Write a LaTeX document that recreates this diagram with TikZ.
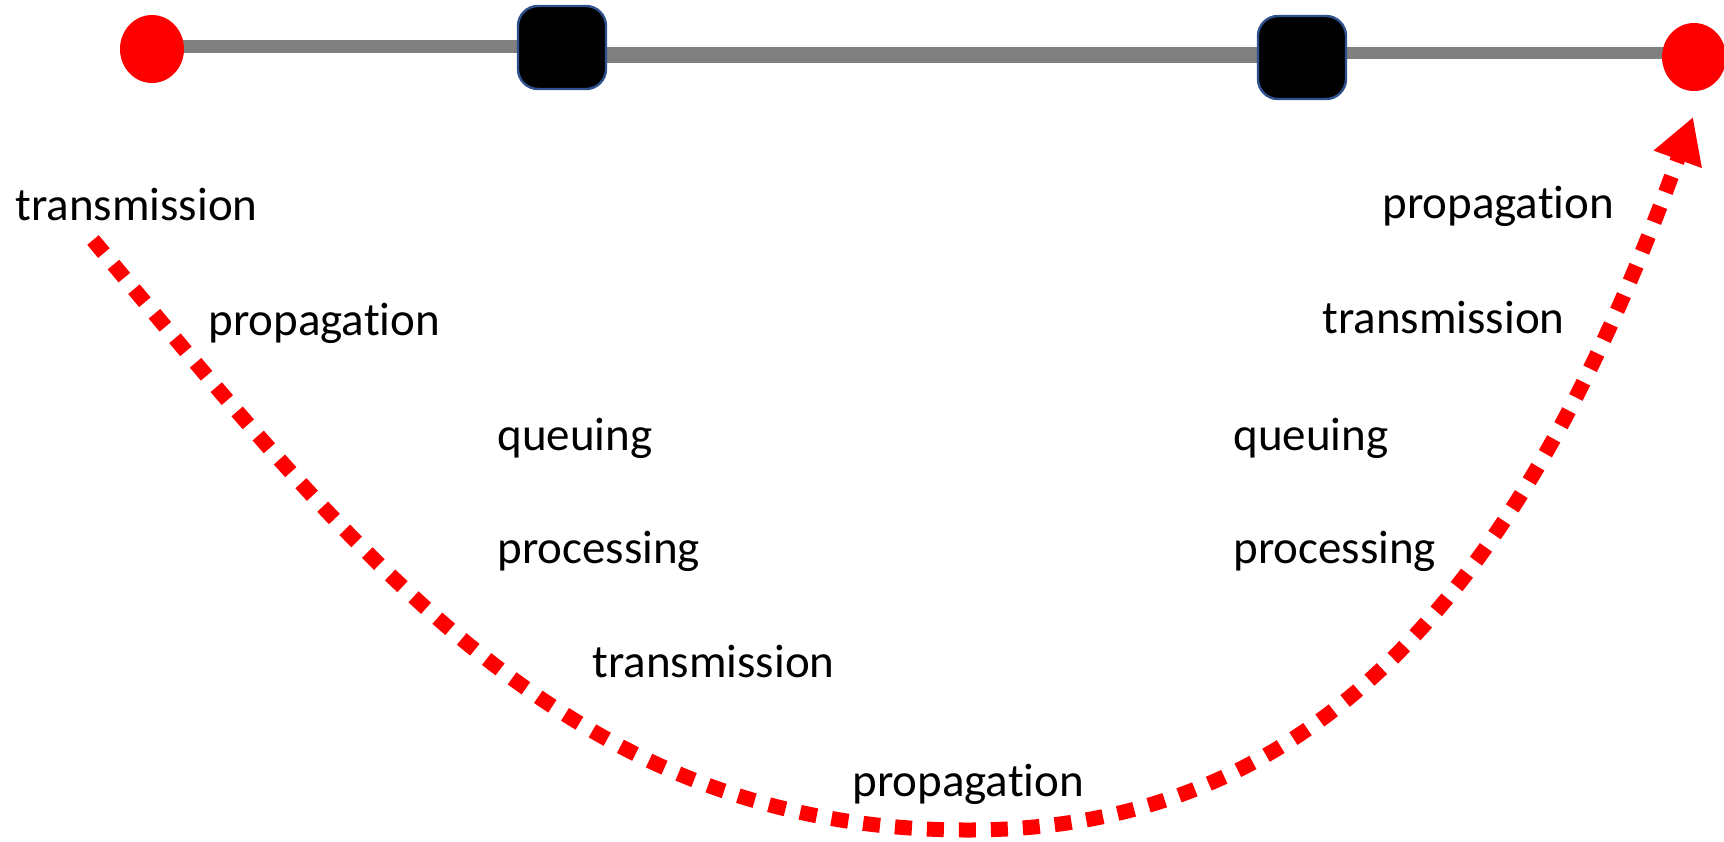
\documentclass[tikz,border=0pt]{standalone}
\usepackage{fontspec}
\setmainfont{Carlito}[Ligatures=NoCommon]
\usetikzlibrary{arrows.meta,shapes.geometric,backgrounds}
\definecolor{linegray}{RGB}{128,128,128}
\definecolor{boxblue}{RGB}{47,82,143}
\tikzset{
  endpt/.style={ellipse, fill=red, minimum width=32pt, minimum height=34pt, inner sep=0pt},
  routerbox/.style={draw=boxblue, line width=1.2pt, fill=black, rounded corners=10pt, minimum width=44pt, minimum height=41.5pt, inner sep=0pt},
  topline/.style={draw=linegray, line width=6pt},
  lbl/.style={anchor=base west, inner sep=0pt, font=\fontsize{23.5pt}{28pt}\selectfont},
  delaypath/.style={draw=red, line width=7.5pt, dash pattern=on 8.5pt off 7.5pt, -{Triangle[length=22.5pt,width=24pt]}}
}
\begin{document}
\begin{tikzpicture}[x=0.5pt,y=-0.5pt]
\useasboundingbox (0,0) rectangle (1724,841);
% top row
\node[endpt] (c1) at (152,49) {};
\node[endpt] (c2) at (1694,57) {};
\node[routerbox] (s1) at (562,47.5) {};
\node[routerbox] (s2) at (1302,57.5) {};
\begin{scope}[on background layer]
\draw[topline, line width=6.5pt] ([yshift=1.25pt]c1.center) -- ([yshift=0.5pt]s1.center);
\draw[topline, line width=8pt] ([yshift=-3.6pt]s1.center) -- ([yshift=1.4pt]s2.center);
\draw[topline] ([yshift=2.25pt]s2.center) -- ([yshift=2pt]c2.center);
\end{scope}
% labels
\node[lbl] (t1) at (15,220) {transmission};
\node[lbl] (p1) at (208,335) {propagation};
\node[lbl] (q1) at (497,450) {queuing};
\node[lbl] (r1) at (497,563) {processing};
\node[lbl] (t2) at (592,677) {transmission};
\node[lbl] (p2) at (852,796) {propagation};
\node[lbl] (p3) at (1382,218) {propagation};
\node[lbl] (t3) at (1322,333) {transmission};
\node[lbl] (q2) at (1233,450) {queuing};
\node[lbl] (r2) at (1233,563) {processing};
% dashed path
\coordinate (arrstart) at (93,240);
\coordinate (arrbottom) at (968,830);
\coordinate (arrend) at (1693,117);
\draw[delaypath] (arrstart) .. controls (356,555) and (568,830) .. (arrbottom)
  .. controls (1318,830) and (1523,587) .. (arrend);
\end{tikzpicture}
\end{document}
